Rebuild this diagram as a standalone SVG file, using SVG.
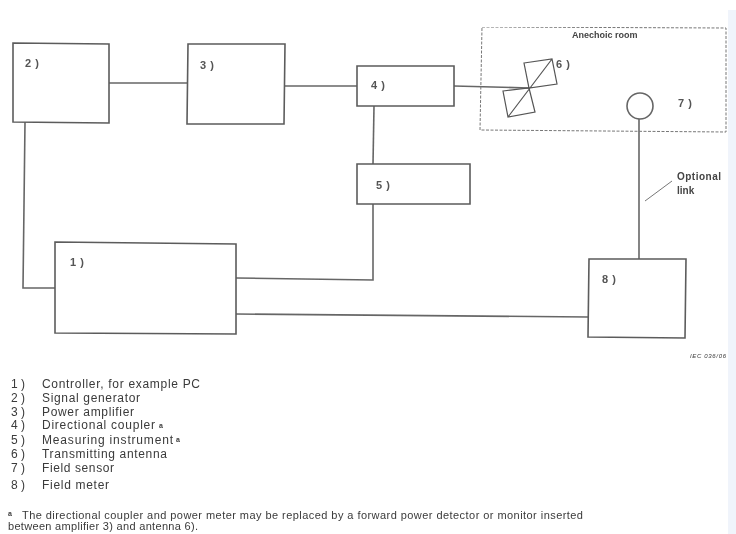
<svg xmlns="http://www.w3.org/2000/svg" width="736" height="534" viewBox="0 0 736 534">
<style>
text{font-family:"Liberation Sans",Arial,sans-serif;fill:#3a3a3a}
.box{fill:#fff;stroke:#5c5c5c;stroke-width:1.6}
.line{fill:none;stroke:#666;stroke-width:1.6}
.lab{font-size:11px;font-weight:bold;fill:#555;letter-spacing:.6px}
.cap{font-size:9px;font-weight:bold;fill:#444}
.opt{font-size:10px;font-weight:bold;fill:#444}
.leg{font-size:12px}
.note{font-size:11px}
.sup{font-size:7px;font-weight:bold}
</style>
<defs><filter id="soft" x="0" y="0" width="100%" height="100%"><feGaussianBlur stdDeviation="0.45"/></filter></defs>
<rect width="736" height="534" fill="#fff"/>
<rect x="728" y="10" width="8" height="524" fill="#f0f4fb"/>
<g filter="url(#soft)">
<g id="connectors">
<path class="line" d="M109 83H188"/>
<path class="line" d="M285 86H357"/>
<path class="line" d="M454 86L529 88"/>
<path class="line" d="M374 106L373 164"/>
<path class="line" d="M373 204V280L236 278"/>
<path class="line" d="M25 122L23 288H55"/>
<path class="line" d="M236 314L588 317"/>
<path class="line" d="M639 119V259"/>
<path d="M645 201L672 181" fill="none" stroke="#777" stroke-width="1"/>
</g>
<g id="node-room"><path d="M482 27L726 28V132L480 130Z" fill="none" stroke="#777" stroke-width="1" stroke-dasharray="3 1.5"/><text class="cap" x="572" y="38">Anechoic room</text></g>
<g id="node-2"><path class="box" d="M13 43L109 44V123L13 122Z"/><text class="lab" x="25" y="67">2 )</text></g>
<g id="node-3"><path class="box" d="M188 44L285 44L284 124L187 124Z"/><text class="lab" x="200" y="69">3 )</text></g>
<g id="node-4"><path class="box" d="M357 66H454V106H357Z"/><text class="lab" x="371" y="89">4 )</text></g>
<g id="node-5"><path class="box" d="M357 164H470V204H357Z"/><text class="lab" x="376" y="189">5 )</text></g>
<g id="node-1"><path class="box" d="M55 242L236 244V334L55 333Z"/><text class="lab" x="70" y="266">1 )</text></g>
<g id="node-8"><path class="box" d="M589 259L686 259L685 338L588 337Z"/><text class="lab" x="602" y="283">8 )</text></g>
<g id="node-6"><path d="M524 63L552 59L557 84L529 88ZM503 91L529 88L535 112L508 117ZM508 117L552 59" fill="none" stroke="#555" stroke-width="1.2"/><text class="lab" x="556" y="68">6 )</text></g>
<g id="node-7"><circle cx="640" cy="106" r="13" fill="#fff" stroke="#666" stroke-width="1.6"/><text class="lab" x="678" y="107">7 )</text></g>
<text class="opt" x="677" y="180" textLength="44">Optional</text>
<text class="opt" x="677" y="194">link</text>
<text x="690" y="358" font-size="6" font-style="italic" fill="#555" textLength="36">IEC  036/06</text>
<g id="legend">
<text class="leg" x="11" y="388">1 )</text><text class="leg" x="42" y="388" textLength="158">Controller, for example PC</text>
<text class="leg" x="11" y="402">2 )</text><text class="leg" x="42" y="402" textLength="98">Signal generator</text>
<text class="leg" x="11" y="416">3 )</text><text class="leg" x="42" y="416" textLength="92">Power amplifier</text>
<text class="leg" x="11" y="429">4 )</text><text class="leg" x="42" y="429" textLength="113">Directional coupler</text><text class="sup" x="159" y="428">a</text>
<text class="leg" x="11" y="444">5 )</text><text class="leg" x="42" y="444" textLength="131">Measuring instrument</text><text class="sup" x="176" y="442">a</text>
<text class="leg" x="11" y="458">6 )</text><text class="leg" x="42" y="458" textLength="125">Transmitting antenna</text>
<text class="leg" x="11" y="472">7 )</text><text class="leg" x="42" y="472" textLength="72">Field sensor</text>
<text class="leg" x="11" y="489">8 )</text><text class="leg" x="42" y="489" textLength="67">Field meter</text>
</g>
<text class="sup" x="8" y="516">a</text>
<text class="note" x="22" y="519" textLength="561">The directional coupler and power meter may be replaced by a forward power detector or monitor inserted</text>
<text class="note" x="8" y="530" textLength="190">between amplifier 3) and antenna 6).</text>
</g>
</svg>
